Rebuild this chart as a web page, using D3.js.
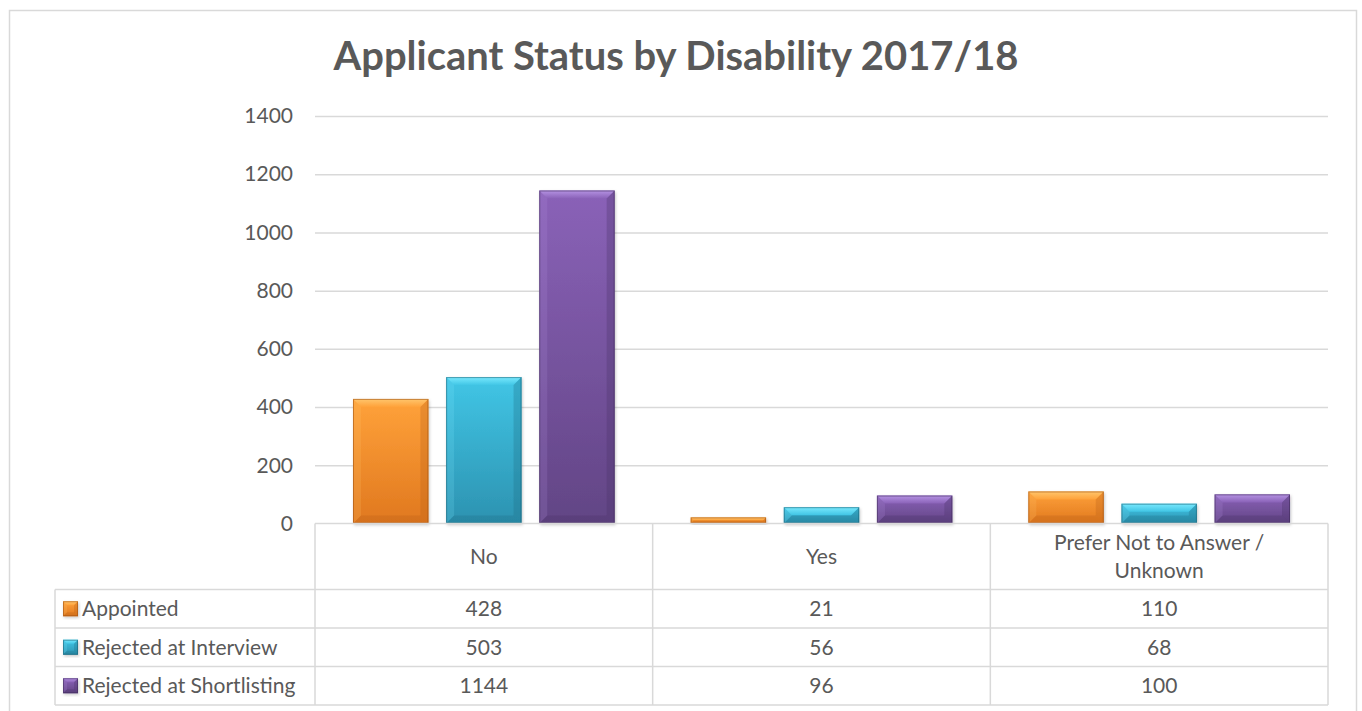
<!DOCTYPE html>
<html>
<head>
<meta charset="utf-8">
<script src="https://cdn.jsdelivr.net/npm/d3@7"></script>
<style>
  html, body { margin: 0; padding: 0; background: #fff; }
  svg { display: block; }
  text { font-family: Lato, "Open Sans", sans-serif; fill: #595959; }
</style>
</head>
<body>
<svg id="chart" width="1362" height="711"></svg>
<script>
// Categories, series and values
const categories = ["No", "Yes", "Prefer Not to Answer / Unknown"];
const categoryLines = [["No"], ["Yes"], ["Prefer Not to Answer /", "Unknown"]];
const seriesNames = ["Appointed", "Rejected at Interview", "Rejected at Shortlisting"];
const appointed = [428, 21, 110];
const rejectedInterview = [503, 56, 68];
const rejectedShortlisting = [1144, 96, 100];
const yTicks = [0, 200, 400, 600, 800, 1000, 1200, 1400];
const titleText = "Applicant Status by Disability 2017/18";

const seriesValues = [appointed, rejectedInterview, rejectedShortlisting];

// Bevel palette per series
const palette = [
  { top: "#FFA23A", bottom: "#E0781F", light: "#FFC870", dark: "#B85F16", edge: "#9A4E10" },
  { top: "#41C6E6", bottom: "#2C92B0", light: "#7DEBFF", dark: "#1F6E86", edge: "#1A5E72" },
  { top: "#8A62B8", bottom: "#624585", light: "#B896E6", dark: "#4A3266", edge: "#3E2A57" }
];

const FONT = "Lato, 'Open Sans', sans-serif";
const FS = "21px";

const svg = d3.select("#chart");
const defs = svg.append("defs");

// Outer chart frame
svg.append("rect")
  .attr("x", 9.5).attr("y", 10.5)
  .attr("width", 1347).attr("height", 720)
  .attr("fill", "#fff").attr("stroke", "#d9d9d9").attr("stroke-width", 1.5);

// Title, sized to its measured span
const title = svg.append("text")
  .attr("x", 676).attr("y", 70)
  .attr("text-anchor", "middle")
  .style("font-family", FONT)
  .style("font-weight", "bold")
  .style("font-size", "34px")
  .style("fill", "#595959")
  .text(titleText);
{
  const w = title.node().getComputedTextLength();
  const fs = 34 * 685 / w;
  title.style("font-size", Math.min(fs, 40) + "px");
}

// Plot area
const plot = { left: 315, right: 1328, top: 116, bottom: 523.5 };

const y = d3.scaleLinear().domain([0, 1400]).range([plot.bottom, plot.top]);
const x0 = d3.scaleBand().domain(categories).range([plot.left, plot.right]).padding(0);
const bw = x0.bandwidth();
const x1 = d3.scaleBand().domain(seriesNames)
  .range([bw * 0.1125, bw * (1 - 0.1125)])
  .paddingInner(0.19).paddingOuter(0);

// Gridlines and tick labels via axis
const yAxis = d3.axisLeft(y).tickValues(yTicks)
  .tickSize(-(plot.right - plot.left)).tickPadding(22)
  .tickFormat(d3.format("d"));
const gy = svg.append("g").attr("transform", `translate(${plot.left},0)`).call(yAxis);
gy.select(".domain").remove();
gy.selectAll(".tick line").attr("stroke", "#d9d9d9").attr("stroke-width", 1.5)
  .filter(d => d === 0).remove();
gy.selectAll(".tick text")
  .style("font-family", FONT)
  .style("font-size", FS).attr("fill", "#595959");

// Gradients per series
palette.forEach((p, i) => {
  const g = defs.append("linearGradient").attr("id", "fill" + i)
    .attr("x1", 0).attr("y1", 0).attr("x2", 0).attr("y2", 1);
  g.append("stop").attr("offset", "0%").attr("stop-color", p.top);
  g.append("stop").attr("offset", "100%").attr("stop-color", p.bottom);
  const t = defs.append("linearGradient").attr("id", "topFacet" + i)
    .attr("x1", 0).attr("y1", 0).attr("x2", 0).attr("y2", 1);
  t.append("stop").attr("offset", "0%").attr("stop-color", p.light);
  t.append("stop").attr("offset", "100%").attr("stop-color", p.top);
});

const shadow = defs.append("filter").attr("id", "shadow")
  .attr("x", "-10%").attr("y", "-10%").attr("width", "130%").attr("height", "130%");
shadow.append("feDropShadow").attr("dx", 1).attr("dy", 1.5).attr("stdDeviation", 1.5)
  .attr("flood-color", "#000").attr("flood-opacity", 0.22);

// Draws a bevelled block within a rectangle
function bevelBlock(g, bx, by, w, h, p, i, bev) {
  const b = Math.min(bev, h / 2, w / 2);
  g.append("rect").attr("x", bx).attr("y", by).attr("width", w).attr("height", h)
    .attr("fill", `url(#fill${i})`).attr("filter", "url(#shadow)");
  // top facet
  g.append("polygon")
    .attr("points", [[bx, by], [bx + w, by], [bx + w - b, by + b], [bx + b, by + b]].join(" "))
    .attr("fill", `url(#topFacet${i})`).attr("opacity", 0.95);
  // left facet
  g.append("polygon")
    .attr("points", [[bx, by], [bx + b, by + b], [bx + b, by + h - b], [bx, by + h]].join(" "))
    .attr("fill", p.light).attr("opacity", 0.18);
  // right facet
  g.append("polygon")
    .attr("points", [[bx + w, by], [bx + w, by + h], [bx + w - b, by + h - b], [bx + w - b, by + b]].join(" "))
    .attr("fill", p.dark).attr("opacity", 0.3);
  // bottom facet
  g.append("polygon")
    .attr("points", [[bx, by + h], [bx + b, by + h - b], [bx + w - b, by + h - b], [bx + w, by + h]].join(" "))
    .attr("fill", p.dark).attr("opacity", 0.3);
  g.append("rect").attr("x", bx + 0.5).attr("y", by + 0.5).attr("width", w - 1).attr("height", Math.max(h - 1, 0))
    .attr("fill", "none").attr("stroke", p.edge).attr("stroke-width", 1).attr("opacity", 0.55);
}

// Bars
const bars = svg.append("g");
seriesNames.forEach((s, i) => {
  categories.forEach((c, j) => {
    const v = seriesValues[i][j];
    const bx = x0(c) + x1(s);
    const by = y(v);
    const h = y(0) - y(v);
    bevelBlock(bars.append("g"), bx, by, x1.bandwidth(), h, palette[i], i, 8);
  });
});

// Data table beneath the plot
const rowH = [66, 38.5, 38.5, 38.5];
const rowY = [plot.bottom];
rowH.forEach((h, k) => rowY.push(rowY[k] + h));
const tableLeft = 55;
const table = svg.append("g");
const lineC = "#d9d9d9";
function hLine(x1p, x2p, yp) {
  table.append("line").attr("x1", x1p).attr("x2", x2p).attr("y1", yp).attr("y2", yp)
    .attr("stroke", lineC).attr("stroke-width", 1.5);
}
function vLine(xp, y1p, y2p) {
  table.append("line").attr("x1", xp).attr("x2", xp).attr("y1", y1p).attr("y2", y2p)
    .attr("stroke", lineC).attr("stroke-width", 1.5);
}
hLine(plot.left, plot.right, rowY[0]);
for (let k = 1; k < rowY.length; k++) hLine(tableLeft, plot.right, rowY[k]);
vLine(tableLeft, rowY[1], rowY[4]);
vLine(plot.left, rowY[0], rowY[4]);
categories.forEach(c => vLine(x0(c) + bw, rowY[0], rowY[4]));

const txtStyle = sel => sel.style("font-family", FONT)
  .style("font-size", FS).attr("fill", "#595959");

// Category header cells
categories.forEach((c, j) => {
  const lines = categoryLines[j];
  const cy = (rowY[0] + rowY[1]) / 2;
  const lh = 28;
  lines.forEach((ln, k) => {
    table.append("text")
      .attr("x", x0(c) + bw / 2)
      .attr("y", cy + (k - (lines.length - 1) / 2) * lh)
      .attr("dy", "0.35em").attr("text-anchor", "middle")
      .call(txtStyle).text(ln);
  });
});

// Series rows with legend keys and values
seriesNames.forEach((s, i) => {
  const cy = (rowY[i + 1] + rowY[i + 2]) / 2;
  bevelBlock(table.append("g"), 63, cy - 7.5, 15, 15, palette[i], i, 4);
  table.append("text").attr("x", 82).attr("y", cy).attr("dy", "0.35em")
    .call(txtStyle).text(s);
  categories.forEach((c, j) => {
    table.append("text").attr("x", x0(c) + bw / 2).attr("y", cy).attr("dy", "0.35em")
      .attr("text-anchor", "middle").call(txtStyle).text(seriesValues[i][j]);
  });
});
</script>
</body>
</html>
